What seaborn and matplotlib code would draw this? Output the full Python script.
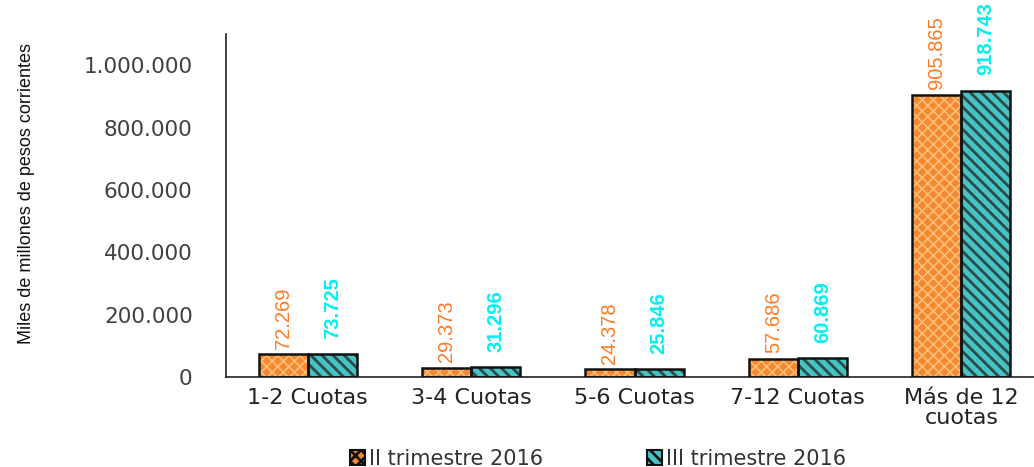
import matplotlib.pyplot as plt
import pandas as pd
import seaborn as sns
from matplotlib.patches import Rectangle

categories = ['1-2 Cuotas', '3-4 Cuotas', '5-6 Cuotas', '7-12 Cuotas', 'Más de 12\ncuotas']
series = ['II trimestre 2016', 'III trimestre 2016']
q2_values = [72269, 29373, 24378, 57686, 905865]
q3_values = [73725, 31296, 25846, 60869, 918743]
y_ticks = [0, 200000, 400000, 600000, 800000, 1000000]

face_colors = {'II trimestre 2016': '#F5892F', 'III trimestre 2016': '#45C4C4'}
hatch_colors = {'II trimestre 2016': '#FFBE78', 'III trimestre 2016': '#2E4A4A'}
hatches = {'II trimestre 2016': 'xxx', 'III trimestre 2016': '\\\\\\'}
hatch_widths = {'II trimestre 2016': 1.2, 'III trimestre 2016': 2.0}
label_colors = {'II trimestre 2016': '#FF7A22', 'III trimestre 2016': '#00F0F0'}
label_offsets = {'II trimestre 2016': 4, 'III trimestre 2016': 11}


def fmt_es(v):
    # Spanish style thousands separator
    return f'{int(v):,}'.replace(',', '.')


df = pd.DataFrame({
    'categoria': categories * 2,
    'serie': [series[0]] * len(categories) + [series[1]] * len(categories),
    'valor': q2_values + q3_values,
})

sns.set_style('white')
plt.rcParams['font.family'] = ['DejaVu Sans']
plt.rcParams['hatch.linewidth'] = 2.0

fig = plt.figure(figsize=(10.34, 4.67), dpi=100)
ax = fig.add_axes([226 / 1034, 90 / 467, 817 / 1034, 343 / 467])

sns.barplot(data=df, x='categoria', y='valor', hue='serie', hue_order=series,
            palette=face_colors, width=0.6, linewidth=0, saturation=1,
            legend=False, ax=ax)

# hatches + black outline + value labels
for container, name in zip(ax.containers, series):
    for bar in container:
        bar.set_hatch(hatches[name])
        bar.set_edgecolor(hatch_colors[name])
        bar.set_linewidth(0)
        if hasattr(bar, 'set_hatch_linewidth'):
            bar.set_hatch_linewidth(hatch_widths[name])
        ax.add_patch(Rectangle(bar.get_xy(), bar.get_width(), bar.get_height(),
                               fill=False, edgecolor='#111111', linewidth=1.8, zorder=3))
    ax.bar_label(container, labels=[fmt_es(v) for v in container.datavalues],
                 rotation=90, padding=label_offsets[name], color=label_colors[name],
                 fontsize=14.5, family='Liberation Sans',
                 fontweight='bold' if name == series[1] else 'normal')

ax.set_xlim(-0.5, len(categories) - 0.5)
ax.set_ylim(0, 1100000)
ax.set_yticks(y_ticks)
ax.set_yticklabels([fmt_es(v) for v in y_ticks], fontsize=15.5, color='#404040')
ax.set_xticks(range(len(categories)))
ax.set_xticklabels(categories, fontsize=16, color='#222222', linespacing=1.0)
ax.set_xticks([i + 0.5 for i in range(-1, len(categories))], minor=True)
ax.tick_params(axis='x', which='major', length=0, pad=8)
ax.tick_params(axis='x', which='minor', length=7, width=1, color='#222222', direction='out')
ax.tick_params(axis='y', length=7, width=1, color='#222222', direction='out', pad=17)
ax.set_xlabel('')
ax.set_ylabel('Miles de millones de pesos corrientes', fontsize=13,
              family='Liberation Sans', color='#111111')
ax.yaxis.set_label_coords(-0.234, 0.536)

for side in ['top', 'right']:
    ax.spines[side].set_visible(False)
for side in ['left', 'bottom']:
    ax.spines[side].set_color('#222222')
    ax.spines[side].set_linewidth(1.2)

handles = [Rectangle((0, 0), 1, 1, facecolor=face_colors[s], hatch=hatches[s],
                     edgecolor='#111111', linewidth=1.5) for s in series]
fig.legend(handles, series, loc='center', bbox_to_anchor=(598 / 1034, 1 - 459 / 467),
           ncol=2, frameon=False, fontsize=15, handlelength=0.7, handleheight=0.7,
           handletextpad=0.2, columnspacing=5.0, labelcolor='#333333')

fig.savefig('out.png', dpi=100)
